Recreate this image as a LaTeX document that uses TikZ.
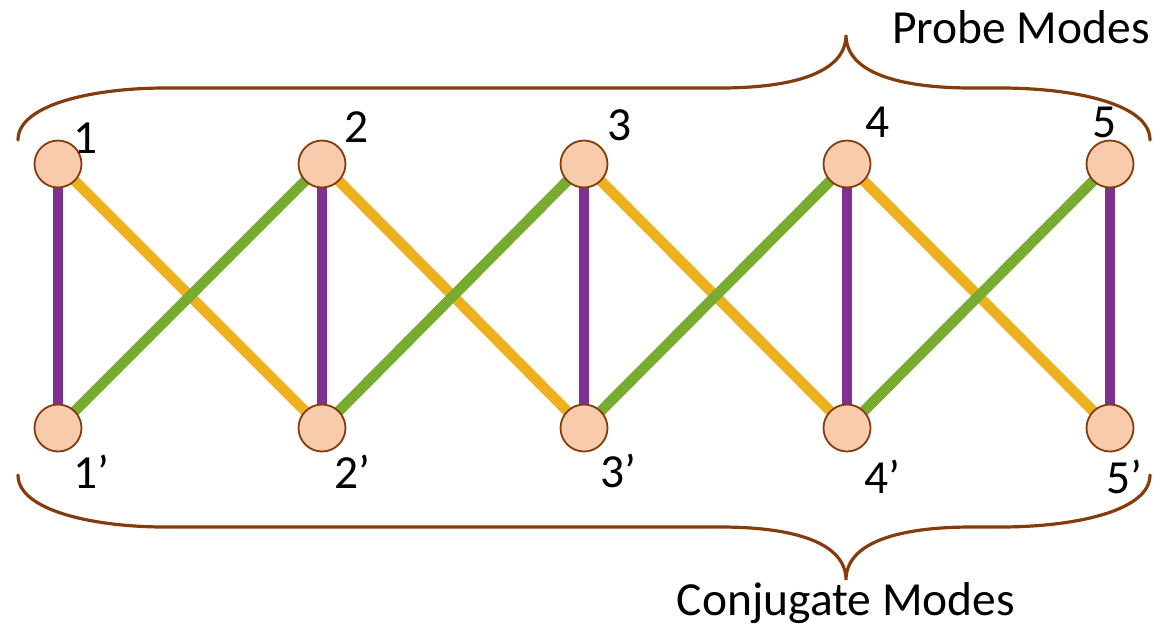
\documentclass[tikz,border=0pt]{standalone}
\usepackage{fontspec}
\setmainfont{Carlito}
\usetikzlibrary{backgrounds}
\definecolor{modefill}{HTML}{F8CBAD}
\definecolor{modeline}{HTML}{843C0C}
\definecolor{vlink}{HTML}{7F3192}
\definecolor{glink}{HTML}{77AC30}
\definecolor{ylink}{HTML}{EDB120}
\begin{document}
\begin{tikzpicture}[x=1pt,y=-1pt,
  mode/.style={circle,draw=modeline,fill=modefill,line width=1.8pt,minimum size=47pt,inner sep=0pt},
  num/.style={font=\fontsize{47.5}{56}\selectfont,anchor=base,inner sep=0pt},
  title/.style={font=\fontsize{47.5}{56}\selectfont,anchor=base,inner sep=0pt},
  brace/.style={draw=modeline,line width=3.2pt,line cap=round},
  vl/.style={draw=vlink,line width=10.5pt},
  gl/.style={draw=glink,line width=10.5pt},
  yl/.style={draw=ylink,line width=10.5pt}]
\useasboundingbox (0,0) rectangle (1165,627);

% probe and conjugate modes
\node[mode] (p1) at (58,164) {};
\node[mode] (p2) at (322,164) {};
\node[mode] (p3) at (584,164) {};
\node[mode] (p4) at (847,164) {};
\node[mode] (p5) at (1110,164) {};
\node[mode] (c1) at (58,428) {};
\node[mode] (c2) at (322,428) {};
\node[mode] (c3) at (584,428) {};
\node[mode] (c4) at (847,428) {};
\node[mode] (c5) at (1110,428) {};

% mode numbers
\node[num] (n1) at (86,153) {1};
\node[num] (n2) at (357,142) {2};
\node[num] (n3) at (620,140) {3};
\node[num] (n4) at (878,137) {4};
\node[num] (n5) at (1105,137) {5};
\node[num] (m1) at (91,488) {1’};
\node[num] (m2) at (352,488) {2’};
\node[num] (m3) at (618,487) {3’};
\node[num] (m4) at (882,493) {4’};
\node[num] (m5) at (1124,493) {5’};

% couplings between the modes
\begin{scope}[on background layer]
  \foreach \a/\b in {p1/c2,p2/c3,p3/c4,p4/c5}
    \draw[yl] (\a.center) -- (\b.center);
  \foreach \a/\b in {c1/p2,c2/p3,c3/p4,c4/p5}
    \draw[gl] (\a.center) -- (\b.center);
  \foreach \i in {1,...,5}
    \draw[vl] (p\i.center) -- (c\i.center);
\end{scope}

% braces
\draw[brace] (18,140) .. controls (18,104) and (95,88) .. (165,88) -- (720,88)
  .. controls (795,88) and (846,72) .. (846,35)
  .. controls (846,72) and (897,88) .. (972,88) -- (1000,88)
  .. controls (1075,88) and (1150,104) .. (1150,140);
\draw[brace] (18,475) .. controls (18,511) and (95,527) .. (165,527) -- (720,527)
  .. controls (795,527) and (846,543) .. (846,580)
  .. controls (846,543) and (897,527) .. (972,527) -- (1000,527)
  .. controls (1075,527) and (1150,511) .. (1150,475);

\node[title] (probe) at (1021,43) {Probe Modes};
\node[title] (conj) at (846,615) {Conjugate Modes};
\end{tikzpicture}
\end{document}
